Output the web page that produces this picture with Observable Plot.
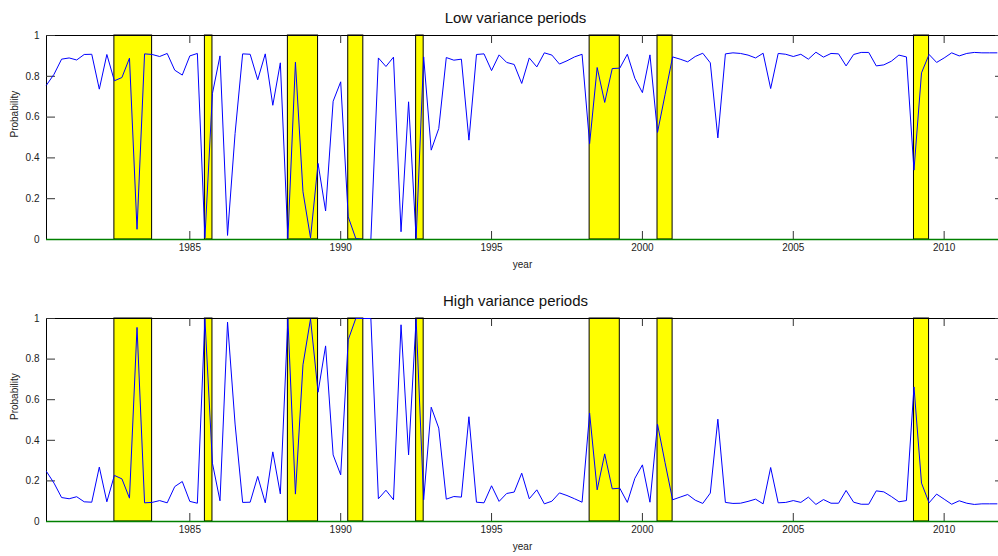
<!DOCTYPE html>
<html><head><meta charset="utf-8">
<script src="https://cdn.jsdelivr.net/npm/d3@7"></script>
<script src="https://cdn.jsdelivr.net/npm/@observablehq/plot@0.6"></script>
<style>
html,body{margin:0;padding:0;background:#fff;overflow:hidden;}
#chart svg{display:block;max-width:none;}
</style></head><body><div id="chart"></div>
<script>
const startYear = 1980.25;
const quarterStep = 0.25;
const lowVariance = [
0.757,0.81,0.884,0.89,0.88,0.907,0.908,0.737,0.907,0.778,
0.794,0.889,0.05,0.91,0.907,0.897,0.912,0.83,0.806,0.90,
0.912,0.008,0.716,0.90,0.02,0.52,0.91,0.908,0.783,0.91,
0.658,0.866,0.005,0.869,0.234,0.008,0.373,0.14,0.678,0.773,
0.111,0.005,0.0,0.0,0.89,0.848,0.894,0.038,0.675,0.005,
0.895,0.438,0.544,0.892,0.879,0.884,0.487,0.907,0.91,0.828,
0.905,0.868,0.858,0.765,0.89,0.846,0.915,0.904,0.86,0.876,
0.895,0.908,0.47,0.843,0.672,0.838,0.84,0.908,0.79,0.72,
0.905,0.525,0.71,0.895,0.884,0.871,0.897,0.913,0.866,0.498,
0.91,0.915,0.912,0.904,0.89,0.913,0.74,0.912,0.908,0.897,
0.908,0.884,0.918,0.894,0.912,0.91,0.851,0.907,0.917,0.917,
0.851,0.856,0.874,0.904,0.895,0.34,0.817,0.907,0.868,0.89,
0.915,0.90,0.912,0.917,0.915,0.915,0.915];
const highVariance = [
0.246,0.189,0.118,0.112,0.122,0.097,0.095,0.268,0.097,0.227,
0.21,0.115,0.956,0.092,0.094,0.103,0.092,0.172,0.197,0.099,
0.09,0.998,0.287,0.102,0.982,0.48,0.094,0.095,0.222,0.092,
0.343,0.136,0.998,0.135,0.772,0.998,0.637,0.865,0.328,0.23,
0.895,1.0,1.0,1.0,0.112,0.154,0.107,0.969,0.328,0.998,
0.107,0.563,0.46,0.11,0.123,0.12,0.516,0.095,0.092,0.176,
0.099,0.138,0.145,0.238,0.112,0.156,0.087,0.10,0.141,0.128,
0.112,0.095,0.534,0.156,0.333,0.161,0.164,0.094,0.213,0.279,
0.095,0.479,0.29,0.107,0.12,0.133,0.105,0.089,0.14,0.504,
0.094,0.089,0.09,0.099,0.11,0.087,0.266,0.092,0.094,0.103,
0.094,0.12,0.084,0.108,0.09,0.09,0.153,0.095,0.085,0.085,
0.151,0.146,0.123,0.097,0.103,0.663,0.189,0.092,0.135,0.11,
0.085,0.102,0.09,0.084,0.087,0.087,0.087];
const bandStart = [1982.5, 1985.5, 1988.25, 1990.25, 1992.5, 1998.25, 2000.5, 2009.0];
const bandEnd   = [1983.75, 1985.75, 1989.25, 1990.75, 1992.75, 1999.25, 2001.0, 2009.5];
const xTicks = [1985, 1990, 1995, 2000, 2005, 2010];
const yTicks = [0, 0.2, 0.4, 0.6, 0.8, 1];
const xDomain = [1980.25, 2012];
const titles = ["Low variance periods", "High variance periods"];

function panel(title, values, height, marginBottom, titleDy) {
  const W = 1004, ML = 46, MR = 0, MT = 35;
  const plotW = W - ML - MR, plotH = height - MT - marginBottom;
  const data = values.map((v, i) => ({t: startYear + i * quarterStep, p: v}));
  const bands = bandStart.map((s, i) => ({s, e: bandEnd[i]}));
  return Plot.plot({
    width: W, height, marginLeft: ML, marginRight: MR, marginTop: MT, marginBottom,
    style: {fontFamily: "'Liberation Sans', Arial, sans-serif", fontSize: "10px", color: "#222", background: "white"},
    x: {domain: xDomain},
    y: {domain: [0, 1]},
    marks: [
      Plot.rect(bands, {x1: "s", x2: "e", y1: 0, y2: 1, fill: "#ffff00", stroke: "#000", strokeWidth: 1}),
      Plot.frame({stroke: "#000"}),
      Plot.ruleX(xTicks, {x: d => d, insetTop: plotH - 8, stroke: "#333"}),
      Plot.ruleX(xTicks, {x: d => d, insetBottom: plotH - 8, stroke: "#333"}),
      Plot.ruleY(yTicks, {y: d => d, insetRight: plotW - 9, stroke: "#333"}),
      Plot.ruleY(yTicks, {y: d => d, insetLeft: plotW - 9, stroke: "#333"}),
      Plot.axisX({ticks: xTicks, tickSize: 0, tickPadding: 4, tickFormat: d => String(d), label: null}),
      Plot.axisY({ticks: yTicks, tickSize: 0, tickPadding: 7, tickFormat: d => String(d), label: null}),
      Plot.line(data, {x: "t", y: "p", stroke: "#0000ff", strokeWidth: 1}),
      Plot.ruleY([0], {stroke: "#008000", strokeWidth: 1.5}),
      Plot.text([title], {frameAnchor: "top", lineAnchor: "middle", dy: titleDy, dx: -10, fontSize: 15, fill: "#111"}),
      Plot.text(["year"], {frameAnchor: "bottom", lineAnchor: "middle", dy: 25, dx: -3, fontSize: 10, fill: "#222"}),
      Plot.text(["Probability"], {frameAnchor: "left", lineAnchor: "middle", dx: -32, rotate: -90, fontSize: 10, fill: "#222"})
    ]
  });
}
const chart = document.getElementById("chart");
chart.append(panel(titles[0], lowVariance, 283, 44, -17));
chart.append(panel(titles[1], highVariance, 273, 35, -17));
</script></body></html>
